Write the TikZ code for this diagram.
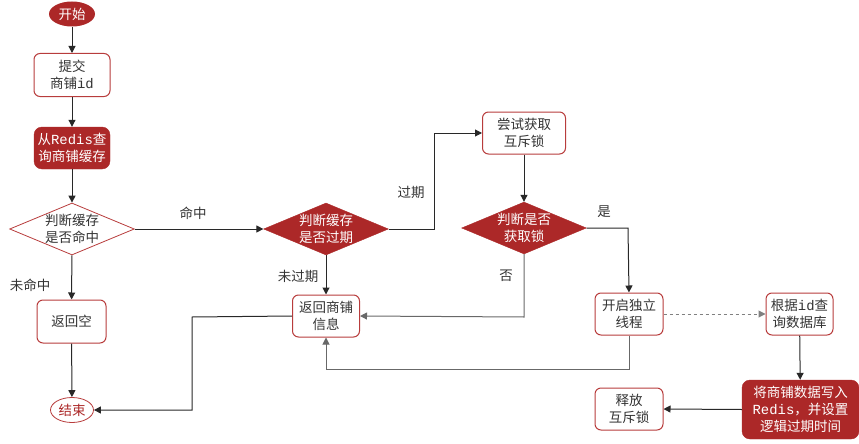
\documentclass[tikz,border=0pt]{standalone}
\usepackage{fontspec}
\setmainfont{Noto Sans CJK SC}
\newfontfamily\monof[Scale=1.03]{Liberation Mono}
\usetikzlibrary{shapes.geometric,arrows.meta}
\definecolor{dred}{RGB}{172,40,40}
\definecolor{bred}{RGB}{184,60,60}
\definecolor{txt}{RGB}{51,51,51}
\definecolor{ln}{RGB}{40,40,40}
\tikzset{
  box/.style={draw=bred,line width=1pt,rounded corners=6pt,fill=white,text=txt,align=center,inner sep=0pt},
  fbox/.style={draw=dred,fill=dred,rounded corners=8pt,text=white,align=center,inner sep=0pt},
  dia/.style={diamond,draw=bred,line width=0.8pt,fill=white,text=txt,align=center,inner sep=0pt,aspect=2.4},
  fdia/.style={diamond,draw=dred,fill=dred,text=white,align=center,inner sep=0pt,aspect=2.4},
  term/.style={ellipse,align=center,inner sep=0pt},
  conn/.style={draw=ln,line width=1pt,-{Triangle[length=7pt,width=7pt]}},
  lab/.style={text=txt,inner sep=0pt},
}
\begin{document}
\begin{tikzpicture}[x=1pt,y=-1pt,font=\fontsize{13.5}{17}\selectfont]
\useasboundingbox (0,0) rectangle (859,444);
% nodes
\node[term,fill=dred,text=white,minimum width=46pt,minimum height=25pt] (start) at (72,14) {开始};
\node[box,minimum width=76pt,minimum height=43pt] (submit) at (72,75) {提交\\商铺{\monof id}};
\node[fbox,minimum width=76pt,minimum height=42pt] (query) at (72,148) {从{\monof Redis}查\\询商铺缓存};
\node[dia,minimum width=121pt,minimum height=50pt] (hit) at (72,229) {判断缓存\\是否命中};
\node[box,minimum width=69pt,minimum height=43pt] (empty) at (71.5,321.5) {返回空};
\node[term,draw=bred,line width=0.8pt,fill=white,text=dred,minimum width=43pt,minimum height=25pt] (end) at (72,410) {结束};
\node[fdia,minimum width=122pt,minimum height=51pt] (exp) at (326,229) {判断缓存\\是否过期};
\node[box,minimum width=67pt,minimum height=42pt] (ret) at (326,316) {返回商铺\\信息};
\node[box,minimum width=83pt,minimum height=42pt] (try) at (524,133) {尝试获取\\互斥锁};
\node[fdia,minimum width=121pt,minimum height=50pt] (got) at (524,228) {判断是否\\获取锁};
\node[box,minimum width=68pt,minimum height=42pt] (thread) at (629,314) {开启独立\\线程};
\node[box,minimum width=67pt,minimum height=42pt] (db) at (799.5,314) {根据{\monof id}查\\询数据库};
\node[fbox,minimum width=117pt,minimum height=59pt] (write) at (800.5,409.5) {将商铺数据写入\\{\monof Redis}，并设置\\逻辑过期时间};
\node[box,minimum width=68pt,minimum height=42pt] (rel) at (629,409) {释放\\互斥锁};
% corner coordinates
\coordinate (c1) at (192,317);
\coordinate (c2) at (192,410);
\coordinate (c3) at (434,229);
\coordinate (c4) at (434,133);
\coordinate (c5) at (524,317);
\coordinate (c6) at (628,228);
\coordinate (c7) at (629,369);
\coordinate (c8) at (326,369);
% connectors
\draw[conn] (start) -- (submit);
\draw[conn] (submit) -- (query);
\draw[conn] (query) -- (hit);
\draw[conn] (hit) -- (empty);
\draw[conn] (empty) -- (end);
\draw[conn] (hit.east) -- (exp.west);
\draw[conn] (exp) -- (ret);
\draw[conn] (ret.west) -- (c1) -- (c2) -- (end.east);
\draw[conn] (exp.east) -- (c3) -- (c4) -- (try.west);
\draw[conn] (try) -- (got);
\draw[conn,draw=ln!70] (got.south) -- (c5) -- (ret.east);
\draw[conn] (got.east) -- (c6) -- (thread.north);
\draw[conn,draw=gray,dashed,-{Triangle[length=7pt,width=7pt,fill=gray]}] (thread.east) -- (db.west);
\draw[conn] (db) -- (write);
\draw[conn] (write.west) -- (rel.east);
\draw[conn,draw=ln!70] (thread.south) -- (c7) -- (c8) -- (ret.south);
% labels
\node[lab] (l1) at (193,213) {命中};
\node[lab] (l2) at (30,285) {未命中};
\node[lab] (l3) at (411,192) {过期};
\node[lab] (l4) at (298,276) {未过期};
\node[lab] (l5) at (506,276) {否};
\node[lab] (l6) at (604,212) {是};
\end{tikzpicture}
\end{document}
